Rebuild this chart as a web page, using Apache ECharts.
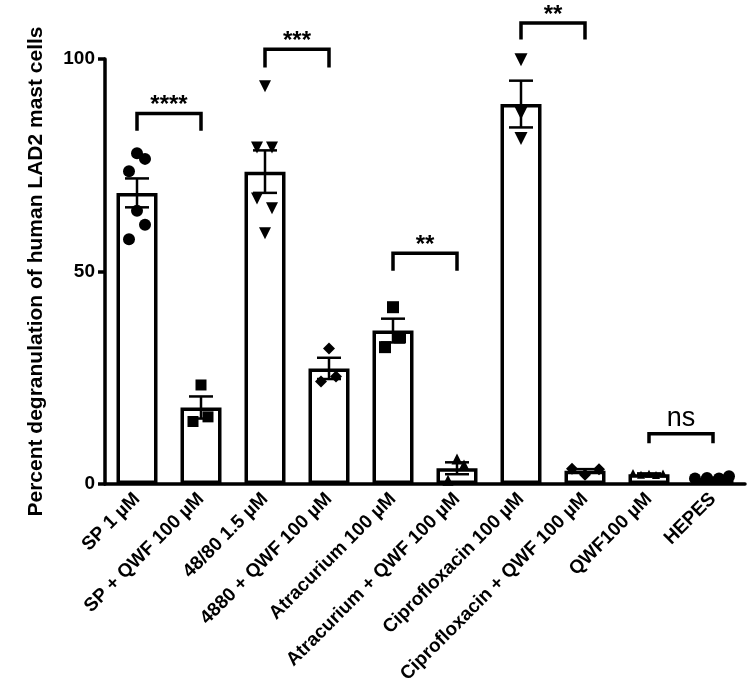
<!DOCTYPE html>
<html><head><meta charset="utf-8">
<script src="https://cdn.jsdelivr.net/npm/echarts@6/dist/echarts.min.js"></script>
<style>html,body{margin:0;padding:0;background:#fff}#c{width:750px;height:700px}</style>
</head><body><div id="c"></div>
<script>
const categories = ['SP 1 µM', 'SP + QWF 100 µM', '48/80 1.5 µM', '4880 + QWF 100 µM', 'Atracurium 100 µM',
  'Atracurium + QWF 100 µM', 'Ciprofloxacin 100 µM', 'Ciprofloxacin + QWF 100 µM', 'QWF100 µM', 'HEPES'];
const barMeans = [68.5, 18.0, 73.5, 27.2, 36.1, 3.7, 89.4, 3.1, 2.3, 1.4];
const barSem = [3.4, 2.6, 5.0, 2.5, 2.8, 1.4, 5.5, 0.4, 0.2, 0.1];

const ptsSP = [77.8, 76.5, 73.6, 64.3, 61.0, 57.6];
const ptsSPQWF = [23.3, 14.7, 15.8];
const pts4880 = [93.6, 79.2, 79.2, 67.2, 64.9, 59.0];
const pts4880QWF = [31.9, 24.1, 25.3];
const ptsAtra = [41.6, 34.5, 32.2];
const ptsAtraQWF = [5.9, 4.5, 0.9];
const ptsCipro = [99.8, 87.3, 81.3];
const ptsCiproQWF = [3.6, 2.2, 3.5];
const ptsQWF = [2.6, 2.2, 2.4, 2.1, 2.5];
const ptsHEPES = [1.3, 1.4, 1.3, 1.8];

const yTicks = [0, 50, 100];

const bracketFrom = [0, 2, 4, 6, 8];
const bracketTo = [1, 3, 5, 7, 9];
const bracketTop = [87.2, 102.3, 54.3, 108.5, 11.8];
const bracketLegEnd = [83.1, 98.0, 50.2, 104.6, 9.6];
const bracketLabel = ['****', '***', '**', '**', 'ns'];

// ---- styles ----
const groupPoints = [ptsSP, ptsSPQWF, pts4880, pts4880QWF, ptsAtra, ptsAtraQWF, ptsCipro, ptsCiproQWF, ptsQWF, ptsHEPES];
const groupSymbol = ['circle', 'rect', 'triangle', 'diamond', 'rect', 'triangle', 'triangle', 'diamond', 'triangle', 'circle'];
const groupRotate = [0, 0, 180, 0, 0, 0, 180, 0, 0, 0];
const groupSize = [12, 11, 12, 12, 12, 11, 13, 12, 8, 12];
const jitter = [
  [0, 8, -8, 0, 8, -8],
  [0, -8, 7],
  [0, -8, 7, -8, 7, 0],
  [0, -8, 7],
  [0, 7, -8],
  [0, 7, -9],
  [0, 0, 0],
  [-13, 0, 14],
  [-16, -8, 0, 7, 14],
  [-18, -6, 6, 16]
];
const FONT = '"Liberation Sans", Arial, Helvetica, sans-serif';

const scatterData = [];
groupPoints.forEach((arr, g) => {
  arr.forEach((v, k) => {
    scatterData.push({
      value: [g, v],
      symbol: groupSymbol[g],
      symbolRotate: groupRotate[g],
      symbolSize: groupSize[g],
      symbolOffset: [jitter[g][k] || 0, 0]
    });
  });
});

const errData = barMeans.map((m, i) => [i, m, barSem[i]]);
const bracketData = bracketFrom.map((f, i) => [f, bracketTo[i], bracketTop[i], bracketLegEnd[i]]);

const chart = echarts.init(document.getElementById('c'), null, { renderer: 'canvas' });
chart.setOption({
  backgroundColor: '#fff',
  animation: false,
  grid: { left: 105, right: 5, top: 59, bottom: 216, containLabel: false },
  xAxis: {
    type: 'category',
    data: categories,
    axisLine: { lineStyle: { color: '#000', width: 3.5 } },
    axisTick: { alignWithLabel: true, length: 8, lineStyle: { color: '#000', width: 3.5 } },
    axisLabel: { rotate: 45, interval: 0, color: '#000', fontWeight: 'bold', fontSize: 19, fontFamily: FONT, margin: 12 }
  },
  yAxis: {
    type: 'value', min: yTicks[0], max: yTicks[yTicks.length - 1], interval: yTicks[1] - yTicks[0],
    name: 'Percent degranulation of human LAD2 mast cells',
    nameLocation: 'middle', nameGap: 58,
    nameTextStyle: { color: '#000', fontWeight: 'bold', fontSize: 21, fontFamily: FONT },
    splitLine: { show: false },
    axisLine: { show: true, lineStyle: { color: '#000', width: 3.5 } },
    axisTick: { show: true, length: 7, lineStyle: { color: '#000', width: 3.5 } },
    axisLabel: { color: '#000', fontWeight: 'bold', fontSize: 19, fontFamily: FONT, margin: 10 }
  },
  series: [
    {
      type: 'bar', data: barMeans, barWidth: 41,
      itemStyle: { color: '#fff', borderColor: '#000', borderWidth: 3.5 },
      z: 2
    },
    {
      type: 'custom', data: errData, z: 3, clip: false,
      renderItem: function (params, api) {
        const i = api.value(0), m = api.value(1), s = api.value(2);
        const t = api.coord([i, m + s]);
        const b = api.coord([i, m - s]);
        const h = 12;
        const st = { stroke: '#000', lineWidth: 2.5, fill: null };
        return {
          type: 'group', children: [
            { type: 'line', shape: { x1: t[0], y1: t[1], x2: b[0], y2: b[1] }, style: st },
            { type: 'line', shape: { x1: t[0] - h, y1: t[1], x2: t[0] + h, y2: t[1] }, style: st },
            { type: 'line', shape: { x1: b[0] - h, y1: b[1], x2: b[0] + h, y2: b[1] }, style: st }
          ]
        };
      }
    },
    {
      type: 'scatter', data: scatterData, z: 4,
      itemStyle: { color: '#000', opacity: 1 }
    },
    {
      type: 'custom', data: bracketData, z: 5, clip: false,
      renderItem: function (params, api) {
        const f = api.value(0), t = api.value(1), top = api.value(2), leg = api.value(3);
        const a = api.coord([f, top]);
        const b = api.coord([t, top]);
        const l = api.coord([f, leg]);
        const lab = bracketLabel[params.dataIndex];
        const isNs = lab === 'ns';
        return {
          type: 'group', children: [
            { type: 'polyline', shape: { points: [[a[0], l[1]], [a[0], a[1]], [b[0], b[1]], [b[0], l[1]]] },
              style: { stroke: '#000', lineWidth: 3.5, fill: null } },
            { type: 'text', style: {
                x: (a[0] + b[0]) / 2, y: isNs ? a[1] - 2 : a[1] + 4,
                text: lab, align: 'center', verticalAlign: 'bottom',
                fill: '#000', font: (isNs ? 'normal 27px ' : 'bold 24px ') + FONT } }
          ]
        };
      }
    }
  ]
});
</script>
</body></html>
